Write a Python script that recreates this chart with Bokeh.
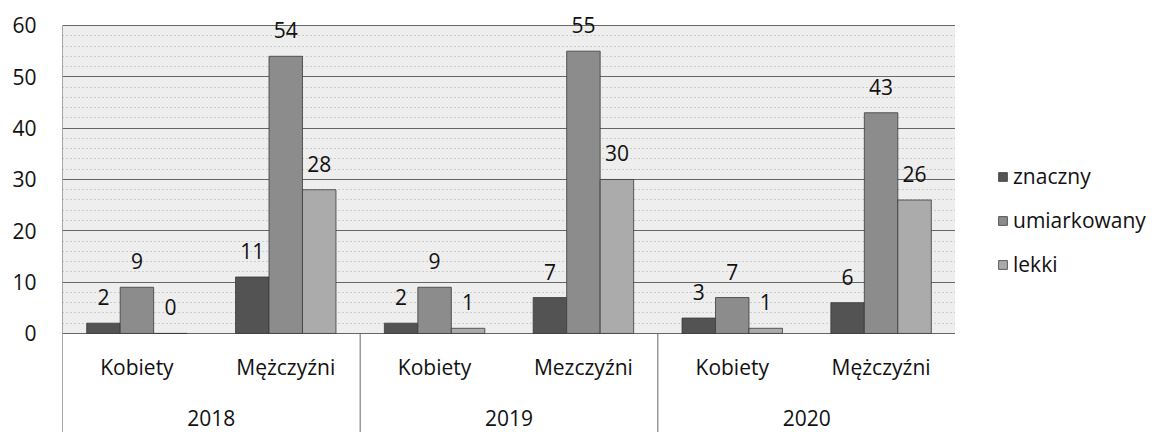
from bokeh.plotting import figure
from bokeh.layouts import row
from bokeh.models import (FactorRange, Range1d, FixedTicker, ColumnDataSource,
                          Legend, LegendItem)
from bokeh.transform import dodge
from bokeh.core.properties import value
from bokeh.embed import file_html
from bokeh.resources import INLINE

# ---- data ----
years = ["2018", "2019", "2020"]
genders = [["Kobiety", "Mężczyźni"], ["Kobiety", "Mezczyźni"], ["Kobiety", "Mężczyźni"]]
series_names = ["znaczny", "umiarkowany", "lekki"]
znaczny = [2, 11, 2, 7, 3, 6]
umiarkowany = [9, 54, 9, 55, 7, 43]
lekki = [0, 28, 1, 30, 1, 26]
y_ticks = [0, 10, 20, 30, 40, 50, 60]
y_minor = [v for v in range(2, 60, 2) if v % 10 != 0]

FONT = "Open Sans"
FS = "21px"
TXT = "#111111"
colors = ["#535353", "#8c8c8c", "#ababab"]
Y_BOTTOM = -19.3
Y_TOP = 64.87

factors = [(y, g) for y, gs in zip(years, genders) for g in gs]
src = ColumnDataSource(dict(x=factors, znaczny=znaczny, umiarkowany=umiarkowany, lekki=lekki,
                            zl=[str(v) for v in znaczny], ul=[str(v) for v in umiarkowany],
                            ll=[str(v) for v in lekki]))

x_range = FactorRange(*factors, group_padding=0, factor_padding=0, range_padding=0)
p = figure(x_range=x_range, y_range=Range1d(Y_BOTTOM, Y_TOP), width=955, height=432,
           output_backend="svg", toolbar_location=None, x_axis_location=None,
           min_border_left=62, min_border_right=0, min_border_top=0, min_border_bottom=0)
p.outline_line_color = None
p.background_fill_color = "white"
p.border_fill_color = "white"

left_edge = (years[0], genders[0][0], -0.5)

# plot area background
bg = ColumnDataSource(dict(l=[left_edge], r=[(years[-1], genders[-1][-1], 0.5)],
                           b=[0], t=[y_ticks[-1]]))
p.quad(left="l", right="r", bottom="b", top="t", source=bg, fill_color="#eeeeee",
       line_color=None, level="image")

# grid
p.xgrid.grid_line_color = None
p.ygrid.ticker = FixedTicker(ticks=y_ticks, minor_ticks=y_minor)
p.ygrid.grid_line_color = "#666666"
p.ygrid.grid_line_width = 1
p.ygrid.minor_grid_line_color = "#999999"
p.ygrid.minor_grid_line_dash = "1 3"
p.ygrid.minor_grid_line_alpha = 0.8

# y axis (labels only; the axis line is drawn as a segment from 60 down)
ax = p.yaxis[0]
ax.ticker = FixedTicker(ticks=y_ticks)
ax.major_tick_line_color = None
ax.minor_tick_line_color = None
ax.major_tick_out = 0
ax.major_label_standoff = 26
ax.axis_line_color = None
ax.major_label_text_font = FONT
ax.major_label_text_font_size = FS
ax.major_label_text_color = TXT

# bars
w = 0.225
offs = [-w, 0.0, w]
fields = ["znaczny", "umiarkowany", "lekki"]
lbls = ["zl", "ul", "ll"]
for f, lf, off, c in zip(fields, lbls, offs, colors):
    p.vbar(x=dodge("x", off, range=x_range), top=f, bottom=0, width=w, source=src,
           fill_color=c, line_color="#3a3a3a", line_width=0.8)
    p.text(x=dodge("x", off, range=x_range), y=f, text=lf, source=src,
           text_font=value(FONT), text_font_size=value(FS), text_color=TXT,
           text_align="center", text_baseline="middle", y_offset=-26)

# category labels
cat_src = ColumnDataSource(dict(x=factors, t=[f[1] for f in factors], y=[0] * len(factors)))
p.text(x="x", y="y", text="t", source=cat_src, text_font=value(FONT), text_font_size=value(FS),
       text_color=TXT, text_align="center", text_baseline="middle", y_offset=34)
yr_src = ColumnDataSource(dict(x=years, t=years, y=[0] * len(years)))
p.text(x="x", y="y", text="t", source=yr_src, text_font=value(FONT), text_font_size=value(FS),
       text_color=TXT, text_align="center", text_baseline="middle", y_offset=85)

# left axis line and separators below the plot area
p.segment(x0=[left_edge], y0=[y_ticks[-1]], x1=[left_edge], y1=[Y_BOTTOM],
          line_color="#555555", line_width=1)
sep_x = [(y, gs[-1], 0.5) for y, gs in zip(years, genders)]
sep_src = ColumnDataSource(dict(x=sep_x, y0=[0] * len(sep_x), y1=[Y_BOTTOM] * len(sep_x)))
p.segment(x0="x", y0="y0", x1="x", y1="y1", source=sep_src, line_color="#666666", line_width=1)

# legend in a side figure (swatch renderers sit outside its visible range)
pl = figure(width=211, height=432, output_backend="svg", toolbar_location=None,
            x_axis_location=None, y_axis_location=None, x_range=Range1d(0, 1),
            y_range=Range1d(0, 1), min_border=0)
pl.outline_line_color = None
pl.grid.visible = False
items = []
for name, c in zip(series_names, colors):
    r = pl.vbar(x=[5], top=[5], bottom=[4], width=0.1, fill_color=c,
                line_color="#3a3a3a", line_width=0.8)
    items.append(LegendItem(label=name, renderers=[r]))
legend = Legend(items=items, location=(42, 154), orientation="vertical",
                glyph_width=11, glyph_height=11, label_text_font=FONT,
                label_text_font_size=FS, label_text_color=TXT,
                spacing=16, padding=0, margin=0, label_standoff=5,
                border_line_color=None, background_fill_alpha=0)
pl.add_layout(legend, "center")

layout = row(p, pl, spacing=0)
open("out.html", "w").write(file_html(layout, INLINE))
